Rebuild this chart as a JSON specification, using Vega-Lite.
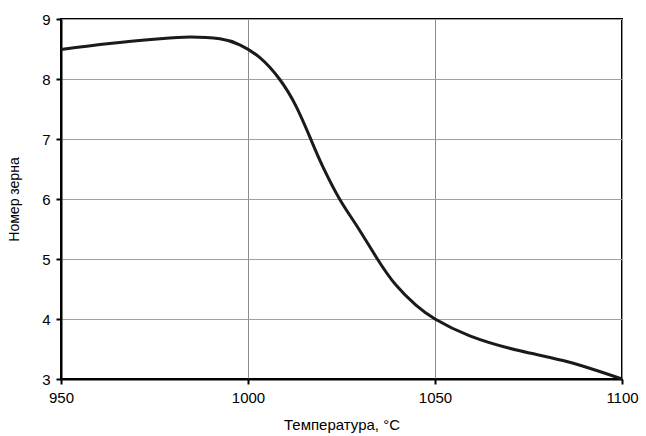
{
  "$schema": "https://vega.github.io/schema/vega-lite/v6.json",
  "width": 561,
  "height": 360,
  "autosize": {"type": "none"},
  "padding": {"left": 61, "top": 19, "right": 24, "bottom": 57},
  "background": "white",
  "config": {
    "view": {"stroke": "black", "strokeWidth": 2},
    "font": "Liberation Sans"
  },
  "data": {
    "values": [
      {"t": 950, "n": 8.49},
      {"t": 963, "n": 8.59},
      {"t": 976.5, "n": 8.67},
      {"t": 984.5, "n": 8.7},
      {"t": 992.5, "n": 8.67},
      {"t": 997.8, "n": 8.57},
      {"t": 1003.1, "n": 8.36},
      {"t": 1008.4, "n": 8.0},
      {"t": 1012.9, "n": 7.54},
      {"t": 1016.9, "n": 6.98},
      {"t": 1020, "n": 6.54},
      {"t": 1024.4, "n": 6.01},
      {"t": 1028.9, "n": 5.57},
      {"t": 1034.6, "n": 5.0},
      {"t": 1039.5, "n": 4.57},
      {"t": 1044.9, "n": 4.23},
      {"t": 1050, "n": 4.0},
      {"t": 1059.3, "n": 3.72},
      {"t": 1072.7, "n": 3.47},
      {"t": 1086, "n": 3.28},
      {"t": 1100, "n": 3.0}
    ]
  },
  "mark": {"type": "line", "interpolate": "natural", "color": "#1a1a1a", "strokeWidth": 3},
  "encoding": {
    "x": {
      "field": "t", "type": "quantitative",
      "scale": {"domain": [950, 1100], "nice": false},
      "axis": {
        "values": [950, 1000, 1050, 1100],
        "format": "d",
        "labelFlush": false,
        "title": "Температура, °C",
        "titleFont": "Liberation Sans", "titleFontSize": 15, "titleFontWeight": "normal", "titleColor": "black",
        "titlePadding": 12,
        "labelFont": "Liberation Sans", "labelFontSize": 15, "labelColor": "black", "labelPadding": 6,
        "domainColor": "black", "domainWidth": 2,
        "tickColor": "black", "tickWidth": 2, "tickSize": 5,
        "grid": true, "gridColor": "#8c8c8c", "gridWidth": 1
      }
    },
    "y": {
      "field": "n", "type": "quantitative",
      "scale": {"domain": [3, 9], "nice": false},
      "axis": {
        "values": [3, 4, 5, 6, 7, 8, 9],
        "format": "d",
        "labelFlush": false,
        "title": "Номер зерна",
        "titleFont": "Liberation Sans", "titleFontSize": 14, "titleFontWeight": "normal", "titleColor": "black",
        "titlePadding": 20,
        "labelFont": "Liberation Sans", "labelFontSize": 15, "labelColor": "black", "labelPadding": 6,
        "domainColor": "black", "domainWidth": 2,
        "tickColor": "black", "tickWidth": 2, "tickSize": 5,
        "grid": true, "gridColor": "#a0a0a0", "gridWidth": 1
      }
    }
  }
}
